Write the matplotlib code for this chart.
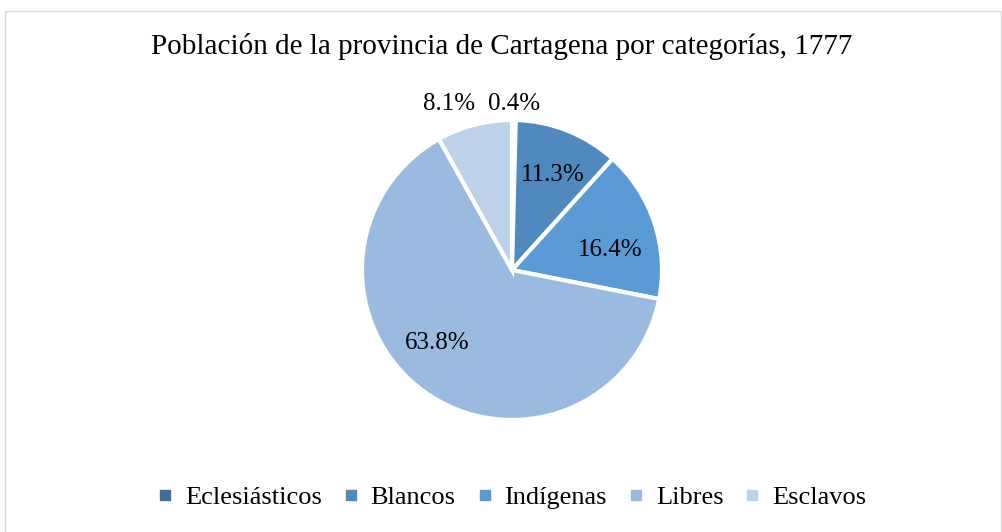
import matplotlib
matplotlib.use("Agg")
import matplotlib.pyplot as plt
import numpy as np
from matplotlib.patches import Rectangle
from matplotlib.lines import Line2D

categories = ["Eclesiásticos", "Blancos", "Indígenas", "Libres", "Esclavos"]
values = [0.4, 11.3, 16.4, 63.8, 8.1]
labels = ["0.4%", "11.3%", "16.4%", "63.8%", "8.1%"]
colors = ["#3F709C", "#4F89BD", "#5B9BD5", "#9BBAE0", "#BDD1EB"]
title = "Población de la provincia de Cartagena por categorías, 1777"

plt.rcParams['font.family'] = ['Liberation Serif', 'DejaVu Serif']

fig = plt.figure(figsize=(10.03, 5.32), dpi=100)
fig.patches.append(Rectangle((0.005, -0.01), 0.993, 0.99, transform=fig.transFigure,
                             fill=False, edgecolor="#D9D9D9", linewidth=1))

ax = fig.add_axes([0.0, 0.0, 1.0, 1.0])
ax.set_aspect('equal')
ax.axis('off')

# center at (512, 270) px of image
cx = (512 - 501.5) / 150
cy = (266 - 270) / 150
wedges, _ = ax.pie(values, colors=colors, startangle=90, counterclock=False,
                   radius=1.0, center=(cx, cy),
                   wedgeprops=dict(edgecolor="white", linewidth=3))
ax.set_xlim(-1003/300, 1003/300)
ax.set_ylim(-532/300, 532/300)

# label placement: (radial factor, angle offset in degrees)
place = [(1.11, 0), (0.69, -1.5), (0.67, -6.9), (0.70, -9.8), (1.185, 6)]
for w, lab, (rf, off) in zip(wedges, labels, place):
    ang = np.deg2rad((w.theta1 + w.theta2) / 2 + off)
    ax.text(cx + rf * np.cos(ang), cy + rf * np.sin(ang), lab,
            ha='center', va='center', fontsize=18, color='black')

fig.text(0.5, 0.912, title, ha='center', va='center', fontsize=21)

handles = [Line2D([], [], marker='s', linestyle='none', markersize=7,
                  markerfacecolor=c, markeredgecolor=c) for c in colors]
fig.legend(handles, categories, loc='center', bbox_to_anchor=(0.509, 0.065),
           ncol=5, frameon=False, fontsize=19, handletextpad=0.35,
           columnspacing=0.7, handlelength=0.8)

fig.savefig("out.png", dpi=100)
